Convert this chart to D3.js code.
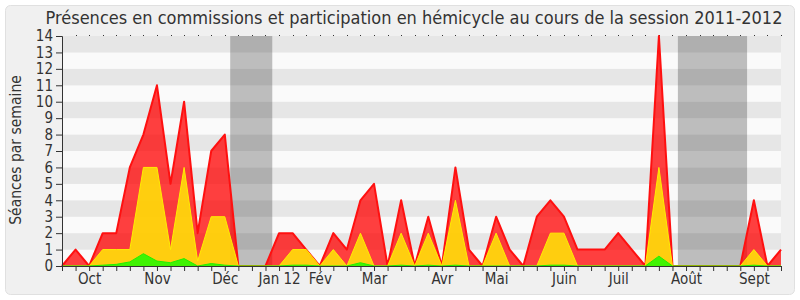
<!DOCTYPE html>
<html>
<head>
<meta charset="utf-8">
<script src="https://cdn.jsdelivr.net/npm/d3@7"></script>
<style>
  body { margin: 0; background: #fff; }
  svg { display: block; }
  text { font-family: "DejaVu Sans Condensed", "DejaVu Sans", sans-serif; fill: #333; }
</style>
</head>
<body>
<script>
// weekly values, session 2011-2012
const presence      = [0,1,0,2,2,6,8,11,5,10,2,7,8,0,0,0,2,2,1,0,2,1,4,5,0,4,0,3,0,6,1,0,3,1,0,3,4,3,1,1,1,2,1,0,14,0,0,0,0,0,0,4,0,1];
const participation = [0,0,0,1,1,1,6,6,1,6,0.3,3,3,0,0,0,0,1,1,0,1,0,2,0,0,2,0,2,0,4,0,0,2,0,0,0,2,2,0,0,0,0,0,0,6,0,0,0,0,0,0,1,0,0];
const interventions = [0,0,0,0.05,0.1,0.25,0.75,0.3,0.2,0.45,0,0.15,0.05,0,0,0,0,0.05,0.05,0,0,0,0.2,0,0,0.05,0,0.05,0,0.05,0,0,0,0,0,0,0.05,0.05,0,0,0,0,0,0,0.6,0,0,0,0,0,0,0.05,0,0];
const monthLabels = ['Oct','Nov','Déc','Jan 12','Fév','Mar','Avr','Mai','Juin','Juil','Août','Sept'];
const monthWeeks  = [2,7,12,16,19,23,28,32,37,41,46,51];
const vacationStart = [12.4, 45.4];
const vacationEnd   = [15.5, 50.5];
const yTicks = d3.range(0, 15);

const W = 800, H = 300;
const svg = d3.select('body').append('svg').attr('width', W).attr('height', H);

const x = d3.scaleLinear().domain([0, presence.length - 1]).range([62, 781]);
const y = d3.scaleLinear().domain([0, 14]).range([266, 36]);

// frame
svg.append('rect')
    .attr('x', 5.5).attr('y', 5.5).attr('width', 789).attr('height', 289).attr('rx', 5)
    .attr('fill', '#f0f0f0').attr('stroke', '#e0e0e0');

// bands
svg.append('g').selectAll('rect').data(d3.range(0, 14)).enter().append('rect')
    .attr('x', x(0)).attr('width', x.range()[1] - x(0))
    .attr('y', (k) => y(k + 1)).attr('height', (k) => y(k) - y(k + 1))
    .attr('fill', (k) => k % 2 ? '#e6e6e6' : '#fafafa');

// top dots
svg.append('g').selectAll('rect').data(d3.range(1, presence.length)).enter().append('rect')
    .attr('x', (i) => Math.round(x(i))).attr('y', 35).attr('width', 1).attr('height', 1)
    .attr('fill', '#333');

// vacations
svg.append('g').selectAll('rect').data(vacationStart).enter().append('rect')
    .attr('x', (d) => x(d)).attr('width', (d, i) => x(vacationEnd[i]) - x(d))
    .attr('y', y(14)).attr('height', y(0) - y(14))
    .attr('fill', '#323232').attr('opacity', 0.3);

const layers = [
    { values: presence,      fill: '#ff0000', stroke: '#ff1010', width: 2 },
    { values: participation, fill: '#ffff00', stroke: '#ffee00', width: 1 },
    { values: interventions, fill: '#00ff00', stroke: '#22ee00', width: 1 }
];
layers.forEach(({values, fill, stroke, width}) => {
    const area = d3.area().x((d, i) => x(i)).y0(y(0)).y1((d) => y(d));
    const line = d3.line().x((d, i) => x(i)).y((d) => y(d));
    svg.append('path').attr('d', area(values)).attr('fill', fill).attr('fill-opacity', 0.75);
    svg.append('path').attr('d', line(values)).attr('fill', 'none')
        .attr('stroke', stroke).attr('stroke-width', width).attr('stroke-linejoin', 'round');
});

// axes
const yAxis = svg.append('g').attr('transform', `translate(${x(0)},0)`)
    .call(d3.axisLeft(y).tickValues(yTicks).tickSize(6).tickPadding(3).tickFormat(d3.format('d')));
yAxis.selectAll('text').attr('font-size', 15).attr('font-family', null);
yAxis.selectAll('line,path').attr('stroke', '#333');

const xAxis = svg.append('g').attr('transform', `translate(0,${y(0)})`)
    .call(d3.axisBottom(x).tickValues(d3.range(0, presence.length)).tickSize(5).tickSizeOuter(0)
        .tickFormat((i) => monthWeeks.includes(i) ? monthLabels[monthWeeks.indexOf(i)] : ''));
xAxis.selectAll('text').attr('font-size', 15).attr('font-family', null).attr('y', 18).attr('dy', 0);
xAxis.selectAll('line,path').attr('stroke', '#333');

// titles
svg.append('text').attr('x', 414).attr('y', 24).attr('text-anchor', 'middle').attr('font-size', 18)
    .text('Présences en commissions et participation en hémicycle au cours de la session 2011-2012');
svg.append('text').attr('transform', 'translate(21,150) rotate(-90)').attr('text-anchor', 'middle')
    .attr('font-size', 15.5).text('Séances par semaine');
</script>
</body>
</html>
